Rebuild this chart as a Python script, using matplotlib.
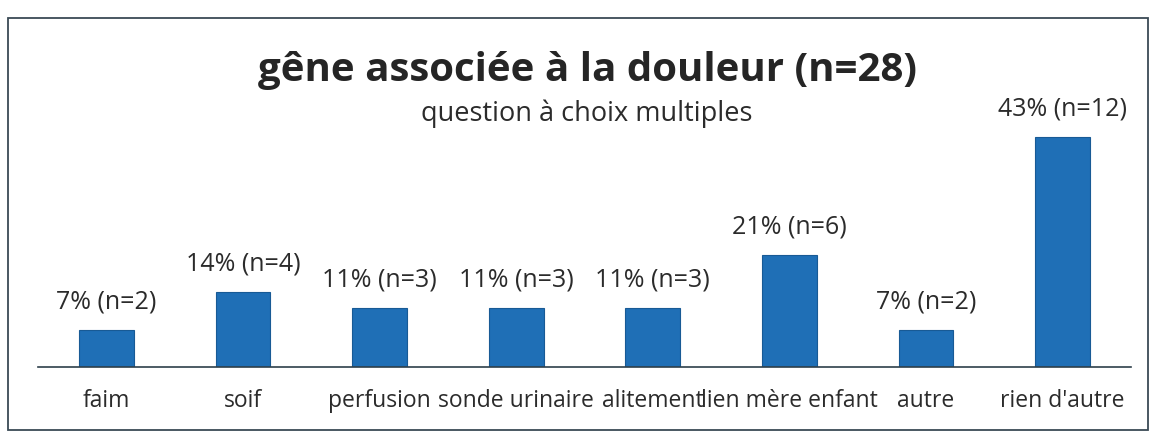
import matplotlib
matplotlib.use("Agg")
import matplotlib.pyplot as plt
from matplotlib.patches import Rectangle

categories = ["faim", "soif", "perfusion", "sonde urinaire", "alitement",
              "lien mère enfant", "autre", "rien d'autre"]
percents = [7, 14, 11, 11, 11, 21, 7, 43]
counts = [2, 4, 3, 3, 3, 6, 2, 12]
title = "gêne associée à la douleur (n=28)"
subtitle = "question à choix multiples"

W, H = 1157, 434
fig = plt.figure(figsize=(W / 100, H / 100), dpi=100)
fig.patch.set_facecolor("white")

FONT = ["Open Sans", "DejaVu Sans"]

# frame
fig.patches.append(Rectangle((8 / W, 4 / H), (1148 - 8) / W, (416 - 4) / H,
                             transform=fig.transFigure, fill=False,
                             edgecolor="#3a4a55", linewidth=1.3))

ax_left, ax_right = 38, 1131
ax_bottom, ax_top = 367, 20
ax = fig.add_axes([ax_left / W, 1 - ax_bottom / H,
                   (ax_right - ax_left) / W, (ax_bottom - ax_top) / H])
ax.set_facecolor("none")

x = range(len(categories))
bars = ax.bar(x, percents, width=0.4, color="#1F6FB6",
              edgecolor="#185a95", linewidth=0.8)
ax.set_xlim(-0.5, len(categories) - 0.5)
ax.set_ylim(0, 64.9)

for xi, p, n in zip(x, percents, counts):
    ax.text(xi, p + 5.2, f"{p}% (n={n})", ha="center", va="center",
            fontsize=18, color="#2b2b2b", family=FONT)

for s in ["top", "right", "left"]:
    ax.spines[s].set_visible(False)
ax.spines["bottom"].set_color("#2e3f4a")
ax.spines["bottom"].set_linewidth(1.2)
ax.set_yticks([])
ax.set_xticks(list(x))
ax.set_xticklabels(categories, fontsize=16.5, color="#2b2b2b", family=FONT)
ax.tick_params(axis="x", length=0, pad=16)

fig.text(587 / W, 1 - 71 / H, title, ha="center", va="center",
         fontsize=29, fontweight="bold", color="#252525", family=FONT)
fig.text(587 / W, 1 - 114 / H, subtitle, ha="center", va="center",
         fontsize=19.5, color="#2b2b2b", family=FONT)

fig.savefig("out.png", dpi=100, facecolor="white")
